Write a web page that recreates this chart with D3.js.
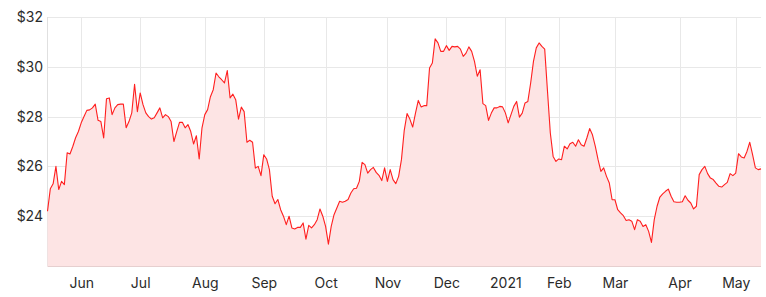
<!DOCTYPE html>
<html>
<head>
<meta charset="utf-8">
<script src="https://cdn.jsdelivr.net/npm/d3@7"></script>
<style>
  body { margin: 0; background: #fff; }
  svg text { font-family: "Inter", "Open Sans", sans-serif; }
</style>
</head>
<body>
<div id="chart"></div>
<script>
// closing prices, one per trading day (mid May 2020 - mid May 2021)
const prices = [
  24.2, 25.1, 25.3, 26.0, 25.07, 25.4, 25.27, 26.55, 26.5, 26.8,
  27.15, 27.4, 27.75, 28.0, 28.25, 28.27, 28.35, 28.5, 27.85, 27.8,
  27.14, 28.72, 28.75, 28.08, 28.35, 28.48, 28.5, 28.5, 27.55, 27.8,
  28.15, 29.3, 28.2, 28.95, 28.48, 28.15, 28.0, 27.9, 27.95, 28.15,
  28.35, 27.95, 28.08, 28.0, 27.8, 27.0, 27.4, 27.77, 27.77, 27.55,
  27.68, 27.4, 26.9, 27.23, 26.3, 27.55, 28.08, 28.28, 28.8, 29.08,
  29.75, 29.6, 29.48, 29.35, 29.85, 28.75, 28.9, 28.68, 27.9, 28.38,
  28.2, 26.97, 27.05, 26.97, 25.93, 26.0, 25.63, 26.47, 26.3, 25.87,
  24.8, 24.5, 24.67, 24.26, 24.0, 23.66, 24.0, 23.53, 23.49, 23.55,
  23.55, 23.73, 23.08, 23.63, 23.53, 23.66, 23.86, 24.29, 24.0, 23.59,
  22.88, 23.59, 24.06, 24.33, 24.6, 24.56, 24.6, 24.67, 24.93, 25.1,
  25.12, 25.4, 26.16, 26.07, 25.73, 25.87, 25.96, 25.76, 25.64, 25.43,
  25.94, 25.4, 25.87, 25.47, 25.31, 25.6, 26.27, 27.45, 28.12, 27.9,
  27.58, 28.14, 28.65, 28.39, 28.44, 28.44, 29.95, 30.15, 31.12, 30.96,
  30.62, 30.62, 30.85, 30.66, 30.82, 30.8, 30.82, 30.71, 30.42, 30.55,
  30.8, 30.62, 30.22, 29.62, 29.88, 28.52, 28.44, 27.85, 28.14, 28.35,
  28.35, 28.41, 28.39, 28.15, 27.75, 28.08, 28.41, 28.61, 27.98, 28.14,
  28.55, 28.61, 29.35, 30.22, 30.76, 30.96, 30.82, 30.71, 29.01, 27.34,
  26.4, 26.2, 26.3, 26.27, 26.81, 26.7, 26.91, 26.97, 26.81, 27.07,
  26.87, 26.81, 27.14, 27.52, 27.27, 26.81, 26.27, 25.8, 25.94, 25.6,
  25.33, 24.66, 24.66, 24.26, 24.13, 24.02, 23.83, 23.86, 23.8, 23.46,
  23.86, 23.8, 23.59, 23.66, 23.39, 22.95, 23.86, 24.4, 24.77, 24.9,
  25.0, 25.09, 24.8, 24.58, 24.56, 24.56, 24.58, 24.82, 24.64, 24.53,
  24.29, 24.4, 25.67, 25.87, 26.0, 25.71, 25.53, 25.47, 25.33, 25.2,
  25.17, 25.27, 25.36, 25.71, 25.63, 25.73, 26.51, 26.38, 26.34, 26.6,
  26.97, 26.47, 25.94, 25.87, 25.9
];

// first trading day of each month, as index into prices
const monthLabels = ['Jun', 'Jul', 'Aug', 'Sep', 'Oct', 'Nov', 'Dec', '2021', 'Feb', 'Mar', 'Apr', 'May'];
const monthStarts = [12, 33, 56, 77, 99, 121, 142, 163, 182, 202, 225, 245];

const yTicks = [24, 26, 28, 30, 32];
const yDomain = [22, 32];

const width = 766;
const height = 297;
const margin = { top: 17, right: 5, bottom: 31, left: 47.5 };

const svg = d3.select('#chart')
  .append('svg')
  .attr('width', width)
  .attr('height', height);

const x = d3.scaleLinear()
  .domain([0, prices.length - 1])
  .range([margin.left, width - margin.right]);

const y = d3.scaleLinear()
  .domain(yDomain)
  .range([height - margin.bottom, margin.top]);

// grid
svg.append('g')
  .selectAll('line.h')
  .data(yTicks)
  .enter().append('line')
  .attr('x1', margin.left)
  .attr('x2', width - margin.right)
  .attr('y1', d => Math.round(y(d)) + 0.5)
  .attr('y2', d => Math.round(y(d)) + 0.5)
  .style('stroke', '#e8e8e8');

svg.append('g')
  .selectAll('line.v')
  .data(monthStarts)
  .enter().append('line')
  .attr('x1', d => Math.round(x(d)) + 0.5)
  .attr('x2', d => Math.round(x(d)) + 0.5)
  .attr('y1', margin.top)
  .attr('y2', height - margin.bottom)
  .style('stroke', '#e8e8e8');

// left edge
svg.append('line')
  .attr('x1', margin.left).attr('x2', margin.left)
  .attr('y1', margin.top).attr('y2', height - margin.bottom)
  .style('stroke', '#e0e0e0');

// area + line
const area = d3.area()
  .x((d, i) => x(i))
  .y0(y(yDomain[0]))
  .y1(d => y(d));

const line = d3.line()
  .x((d, i) => x(i))
  .y(d => y(d));

svg.append('path')
  .datum(prices)
  .attr('d', area)
  .style('fill', '#fde4e4');

svg.append('path')
  .datum(prices)
  .attr('d', line)
  .style('fill', 'none')
  .style('stroke', '#ff1f1f')
  .style('stroke-width', 1.1)
  .style('stroke-linejoin', 'round');

// bottom axis line
svg.append('line')
  .attr('x1', margin.left).attr('x2', width - margin.right)
  .attr('y1', height - margin.bottom + 0.5).attr('y2', height - margin.bottom + 0.5)
  .style('stroke', '#e6cfcf');

// y axis labels
const yAxis = d3.axisLeft(y)
  .tickValues(yTicks)
  .tickSize(0)
  .tickPadding(4.5)
  .tickFormat(d => '$' + d);

svg.append('g')
  .attr('transform', `translate(${margin.left},0)`)
  .call(yAxis)
  .call(g => g.select('.domain').remove())
  .selectAll('text')
  .style('font-size', '14px')
  .style('fill', '#2b2b2b');

// x axis labels
const xAxis = d3.axisBottom(x)
  .tickValues(monthStarts)
  .tickSize(0)
  .tickPadding(12)
  .tickFormat((d, i) => monthLabels[i]);

svg.append('g')
  .attr('transform', `translate(0,${height - margin.bottom})`)
  .call(xAxis)
  .call(g => g.select('.domain').remove())
  .selectAll('text')
  .style('font-size', '14px')
  .style('fill', '#2b2b2b');
</script>
</body>
</html>
